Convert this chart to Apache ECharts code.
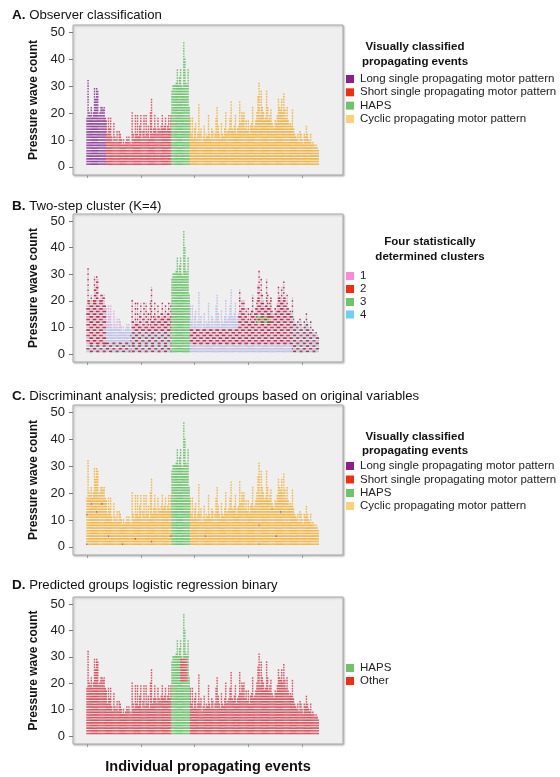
<!DOCTYPE html>
<html>
<head>
<meta charset="utf-8">
<script src="https://cdn.jsdelivr.net/npm/echarts@6/dist/echarts.min.js"></script>
<style>
  html, body { margin: 0; padding: 0; background: #fff; }
  #chart { width: 560px; height: 777px; }
</style>
</head>
<body>
<div id="chart"></div>
<script>
// pressure wave count of each propagating event (same order in all four panels)
const eventCounts = [
  18, 32, 20, 19, 22, 18, 20, 29, 25, 29, 28, 19, 20, 22, 22, 21, 22, 18,
  17, 12, 18, 14, 18, 11, 9, 16, 11, 10, 13, 9, 13, 12, 10, 8, 10, 8, 9, 11,
  10, 11, 9, 8, 20, 12, 10, 19, 12, 19, 11, 15, 19, 10, 13, 19, 11, 19, 12, 15,
  10, 20, 25, 12, 14, 19, 14, 12, 18, 14, 13, 15, 19, 14, 15, 18, 13, 15, 19, 14, 19,
  28, 30, 30, 30, 31, 36, 30, 33, 36, 30, 29, 46, 40, 31, 30, 36, 22,
  18, 12, 18, 10, 14, 16, 10, 12, 23, 12, 14, 9, 11, 15, 10, 12, 11, 19, 12, 10,
  14, 13, 10, 12, 18, 22, 15, 12, 10, 16, 12, 11, 14, 20, 12, 13, 14, 18, 24, 14,
  13, 15, 19, 12, 14, 15, 24, 16, 20, 19, 20, 14, 17, 13, 17, 12, 15, 16, 22, 14,
  15, 17, 20, 26, 31, 19, 28, 22, 20, 17, 18, 28, 22, 17, 19, 21, 16, 15, 14, 17,
  16, 19, 25, 22, 21, 25, 20, 27, 21, 18, 22, 17, 15, 16, 15, 21, 14, 12, 11, 10,
  12, 9, 13, 12, 10, 8, 12, 11, 15, 12, 10, 9, 12, 8, 9, 8, 7, 8, 7, 6
]

// A: observer classification  [first event, last event, group]
const observerGroups = [
  [0, 17, 'long'], [18, 78, 'short'], [79, 95, 'haps'], [96, 215, 'cyclic'],
]

// B: cluster of the waves  [first event, last event, first level, last level, cluster a, cluster b]
const clusterBands = [
  [79, 95, 1, 50, 3, 3],
  [0, 17, 1, 3, 4, 2], [0, 17, 4, 19, 2, 1], [0, 17, 20, 50, 1, 2],
  [18, 40, 1, 4, 4, 2], [18, 40, 5, 10, 4, 1], [18, 40, 11, 50, 1, 1],
  [41, 78, 1, 3, 2, 4], [41, 78, 4, 8, 4, 2], [41, 78, 9, 50, 1, 2],
  [96, 140, 1, 3, 4, 1], [96, 140, 4, 9, 2, 1], [96, 140, 10, 50, 1, 4],
  [158, 170, 12, 14, 3, 2],
  [141, 190, 1, 3, 4, 1], [141, 190, 4, 20, 2, 1], [141, 190, 21, 50, 1, 2],
  [191, 215, 1, 50, 2, 4],
]

// C: discriminant analysis
const discriminantHaps = [79, 95]
const discriminantOdd = [  // [event, level, group]
  [0, 1, 'long'], [0, 12, 'long'], [4, 16, 'long'], [9, 13, 'long'], [14, 16, 'short'],
  [20, 4, 'long'], [33, 1, 'long'], [45, 3, 'short'], [60, 2, 'long'], [78, 4, 'short'],
  [110, 4, 'long'], [160, 1, 'long'], [160, 8, 'long'], [172, 14, 'long'], [174, 15, 'long'],
  [176, 4, 'short'], [180, 13, 'long'],
]

// D: logistic regression
const logisticHaps = [79, 95]
const logisticOtherBlock = [87, 93, 21, 29]

const yTicks = [0, 10, 20, 30, 40, 50]
const xTicks = [0, 50, 100, 150, 200]

const FONT = '"Liberation Sans", Arial, Helvetica, sans-serif'

const panels = [
  { top: 25, height: 150, title: ['A.', ' Observer classification'], titleY: 15 },
  { top: 214, height: 148, title: ['B.', ' Two-step cluster (K=4)'], titleY: 206 },
  { top: 405, height: 150, title: ['C.', ' Discriminant analysis; predicted groups based on original variables'], titleY: 396 },
  { top: 597, height: 147, title: ['D.', ' Predicted groups logistic regression binary'], titleY: 585 },
]

const dashColors = [
  { long: '#94489f', short: '#dc5563', haps: '#6cc46c', cyclic: '#f2b444' },
  { 1: '#dcb2de', 2: '#b8323e', 3: '#6cc46c', 4: '#a9cfec' },
  { long: '#8f3f9a', short: '#e0402f', haps: '#6cc46c', cyclic: '#f3b646' },
  { haps: '#6cc46c', other: '#d9535e' },
]

function inRange(i, r) { return i >= r[0] && i <= r[1] }

const pickers = [
  (i, l) => observerGroups.find(g => inRange(i, g))[2],
  (i, l) => {
    const b = clusterBands.find(b => i >= b[0] && i <= b[1] && l >= b[2] && l <= b[3])
    if (!b) return 1
    return (l + Math.floor(i / 3)) % 2 ? b[4] : b[5]
  },
  (i, l) => {
    const odd = discriminantOdd.find(d => d[0] === i && d[1] === l)
    if (odd) return odd[2]
    return inRange(i, discriminantHaps) ? 'haps' : 'cyclic'
  },
  (i, l) => {
    const b = logisticOtherBlock
    if (i >= b[0] && i <= b[1] && l >= b[2] && l <= b[3]) return 'other'
    return inRange(i, logisticHaps) ? 'haps' : 'other'
  },
]

const grids = [], xAxes = [], yAxes = [], series = []

panels.forEach((p, k) => {
  grids.push({
    left: 73, top: p.top, width: 270, height: p.height,
    show: true, backgroundColor: '#efefef', borderColor: '#a9a9a9', borderWidth: 1,
    shadowColor: 'rgba(0,0,0,0.25)', shadowBlur: 2, shadowOffsetX: 1, shadowOffsetY: 1,
  })
  xAxes.push({
    gridIndex: k, type: 'value', min: -13, max: 238, position: 'bottom',
    axisLine: { show: false, onZero: false },
    splitLine: { show: false },
    axisTick: { show: true, length: 3, customValues: xTicks, lineStyle: { color: '#999' } },
    axisLabel: { show: false, customValues: xTicks },
  })
  yAxes.push({
    gridIndex: k, type: 'value', min: -3, max: 52.7, position: 'left',
    axisLine: { show: false, onZero: false },
    splitLine: { show: false },
    axisTick: { show: true, length: 4, customValues: yTicks, lineStyle: { color: '#777' } },
    axisLabel: { customValues: yTicks, fontSize: 13, color: '#222', fontFamily: FONT, margin: 8 },
  })

  const groups = {}
  eventCounts.forEach((n, i) => {
    for (let l = 1; l <= n; l++) {
      const g = pickers[k](i, l)
      ;(groups[g] = groups[g] || []).push([i, l])
    }
  })
  Object.keys(groups).forEach(g => {
    series.push({
      type: 'scatter',
      xAxisIndex: k, yAxisIndex: k,
      symbol: 'rect',
      symbolSize: [1.4, 1.6],
      silent: true,
      itemStyle: { color: dashColors[k][g], opacity: 1 },
      data: groups[g],
    })
  })
})

// titles, axis names and legends
const graphics = []
function text(x, y, str, opts) {
  graphics.push({
    type: 'text', x: x, y: y, silent: true,
    style: Object.assign({
      text: str, fontFamily: FONT, fontSize: 11, fill: '#222',
      align: 'left', verticalAlign: 'middle', textAlign: 'left', textVerticalAlign: 'middle',
    }, opts || {}),
  })
}

panels.forEach((p, k) => {
  graphics.push({
    type: 'text', x: 12, y: p.titleY, silent: true,
    style: {
      text: '{b|' + p.title[0] + '}' + p.title[1],
      fontFamily: FONT, fontSize: 13.2, fill: '#111',
      verticalAlign: 'middle', textVerticalAlign: 'middle',
      rich: { b: { fontWeight: 'bold', fontSize: 13.5, fontFamily: FONT, fill: '#111' } },
    },
  })
  graphics.push({
    type: 'text', x: 34, y: p.top + p.height / 2, rotation: Math.PI / 2, silent: true,
    style: {
      text: 'Pressure wave count', fontFamily: FONT, fontSize: 12, fontWeight: 'bold', fill: '#111',
      align: 'center', verticalAlign: 'middle', textAlign: 'center', textVerticalAlign: 'middle',
    },
  })
})

const legends = [
  { title: ['Visually classified', 'propagating events'], titleX: 415, titleY: [47, 62],
    items: [['Long single propagating motor pattern', '#8b1f8e'], ['Short single propagating motor pattern', '#f22d10'],
            ['HAPS', '#6fc36b'], ['Cyclic propagating motor pattern', '#fbd27a']], itemY: [79, 92.3, 105.6, 119] },
  { title: ['Four statistically', 'determined clusters'], titleX: 430, titleY: [242, 257],
    items: [['1', '#f58bd9'], ['2', '#f22d10'], ['3', '#6fc36b'], ['4', '#6dcff6']], itemY: [276, 289, 302, 314.5] },
  { title: ['Visually classified', 'propagating events'], titleX: 415, titleY: [437, 451],
    items: [['Long single propagating motor pattern', '#8b1f8e'], ['Short single propagating motor pattern', '#f22d10'],
            ['HAPS', '#6fc36b'], ['Cyclic propagating motor pattern', '#fbd27a']], itemY: [466, 479.5, 493, 506] },
  { title: [], titleX: 0, titleY: [],
    items: [['HAPS', '#6fc36b'], ['Other', '#f22d10']], itemY: [668, 681] },
]

legends.forEach(lg => {
  lg.title.forEach((t, j) => text(lg.titleX, lg.titleY[j], t,
    { fontWeight: 'bold', fontSize: 11.5, fill: '#111', align: 'center', textAlign: 'center' }))
  lg.items.forEach((it, j) => {
    graphics.push({
      type: 'rect', silent: true,
      shape: { x: 346, y: lg.itemY[j] - 4, width: 8, height: 8 },
      style: { fill: it[1] },
    })
    text(360, lg.itemY[j], it[0], { fontSize: 11.5 })
  })
})

text(208, 767, 'Individual propagating events',
  { fontWeight: 'bold', fontSize: 14.5, fill: '#111', align: 'center', textAlign: 'center' })

const chart = echarts.init(document.getElementById('chart'), null, { renderer: 'canvas' })
chart.setOption({
  animation: false,
  backgroundColor: '#fff',
  grid: grids,
  xAxis: xAxes,
  yAxis: yAxes,
  series: series,
  graphic: graphics,
})
</script>
</body>
</html>
